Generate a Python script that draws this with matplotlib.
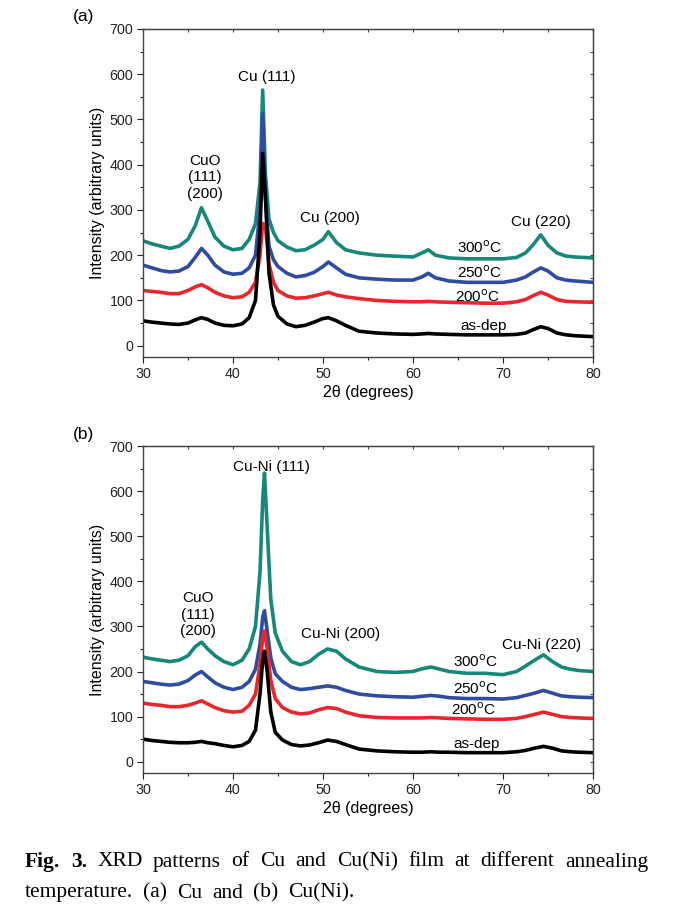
"""XRD patterns of Cu and Cu(Ni) films at different annealing temperatures."""
import matplotlib.pyplot as plt
from matplotlib.ticker import MultipleLocator

plt.rcParams["font.family"] = ["Liberation Sans", "DejaVu Sans"]

# ---- panel (a): Cu ----
two_theta_a = [30, 31, 32, 33, 34, 35, 35.8, 36.5, 37.2, 38, 39, 40, 41, 41.8,
               42.5, 43.0, 43.3, 43.6, 44.0, 44.5, 45, 46, 47, 48, 49, 50, 50.6,
               51.5, 52.5, 54, 56, 58, 60, 61, 61.7, 62.5, 64, 66, 68, 70, 71.5,
               72.5, 73.3, 74.2, 75, 76, 77, 78, 80]
cu_300 = [232, 225, 220, 215, 220, 235, 265, 305, 275, 240, 220, 212, 215, 235,
          270, 360, 565, 380, 280, 250, 232, 218, 210, 212, 222, 235, 252,
          228, 212, 205, 200, 198, 196, 205, 212, 200, 194, 192, 192, 192, 195,
          205, 222, 245, 222, 205, 198, 196, 194]
cu_250 = [178, 172, 166, 163, 165, 175, 195, 215, 200, 178, 163, 158, 160, 172,
          200, 300, 512, 330, 220, 190, 175, 160, 152, 155, 162, 175, 185,
          172, 158, 150, 147, 145, 145, 152, 160, 150, 143, 140, 140, 140, 145,
          152, 162, 172, 165, 150, 145, 143, 140]
cu_200 = [122, 120, 118, 115, 115, 122, 130, 135, 128, 118, 110, 106, 108, 118,
          140, 200, 270, 265, 180, 140, 122, 110, 105, 106, 110, 115, 118,
          112, 108, 104, 100, 98, 97, 97, 98, 97, 96, 95, 94, 94, 97,
          102, 110, 118, 112, 102, 98, 97, 96]
cu_asdep = [55, 52, 50, 48, 47, 50, 57, 62, 58, 50, 45, 44, 48, 62,
            100, 250, 425, 330, 160, 90, 65, 48, 42, 45, 52, 60, 62,
            55, 45, 32, 28, 26, 25, 26, 27, 26, 25, 24, 24, 24, 25,
            28, 35, 42, 38, 28, 24, 22, 20]

# ---- panel (b): Cu(Ni) ----
two_theta_b = [30, 31, 32, 33, 34, 35, 35.8, 36.5, 37.2, 38, 39, 40, 41, 41.8,
               42.5, 43.0, 43.3, 43.5, 43.8, 44.2, 44.7, 45.5, 46.5, 47.5, 48.5,
               49.5, 50.5, 51.5, 52.5, 54, 56, 58, 60, 61, 62, 63, 64, 66, 68, 70,
               71.5, 72.5, 73.5, 74.5, 75.5, 76.5, 77.5, 78.5, 80]
cuni_300 = [232, 228, 225, 222, 225, 235, 255, 265, 250, 235, 222, 215, 225, 250,
            300, 420, 580, 640, 520, 360, 285, 245, 222, 215, 222,
            238, 250, 245, 228, 210, 200, 198, 200, 206, 210, 205, 200, 196, 196, 193,
            200, 212, 225, 237, 222, 210, 205, 202, 200]
cuni_250 = [178, 175, 172, 170, 172, 180, 192, 200, 188, 175, 165, 160, 165, 178,
            205, 260, 320, 335, 290, 230, 195, 178, 165, 160, 162,
            165, 168, 165, 158, 150, 146, 144, 143, 145, 147, 145, 142, 140, 140, 139,
            142, 147, 152, 158, 152, 146, 144, 143, 142]
cuni_200 = [130, 127, 125, 122, 122, 125, 130, 135, 128, 120, 113, 110, 112, 125,
            150, 215, 275, 290, 250, 180, 140, 120, 110, 106, 108,
            115, 120, 118, 110, 102, 98, 97, 97, 97, 98, 97, 96, 95, 94, 94,
            96, 100, 105, 110, 105, 100, 98, 97, 96]
cuni_asdep = [50, 47, 45, 43, 42, 42, 43, 45, 42, 40, 36, 33, 36, 45,
              70, 150, 225, 245, 200, 110, 65, 48, 38, 35, 37,
              42, 48, 45, 38, 28, 24, 22, 21, 21, 22, 21, 21, 20, 20, 20,
              22, 25, 30, 34, 30, 24, 22, 21, 20]

series_colors = ["#17877a", "#2f4c9e", "#e8262b", "#000000"]
temp_labels = ["300$^{\\rm o}$C", "250$^{\\rm o}$C", "200$^{\\rm o}$C", "as-dep"]

caption_line1 = ["Fig.", "3.", "XRD", "patterns", "of", "Cu", "and", "Cu(Ni)", "film",
                 "at", "different", "annealing"]
caption_line2 = ["temperature.", "(a)", "Cu", "and", "(b)", "Cu(Ni)."]


def style_axes(ax):
    ax.set_xlim(30, 80)
    ax.set_ylim(-25, 700)
    ax.xaxis.set_major_locator(MultipleLocator(10))
    ax.xaxis.set_minor_locator(MultipleLocator(5))
    ax.yaxis.set_major_locator(MultipleLocator(100))
    ax.yaxis.set_minor_locator(MultipleLocator(50))
    ax.tick_params(which="both", direction="out", labelsize=10.3, colors="#222222",
                   width=0.8, pad=3)
    ax.tick_params(which="major", length=4)
    ax.tick_params(which="minor", length=2.5)
    for side in ax.spines.values():
        side.set_color("#444444")
        side.set_linewidth(1.0)
    top = ax.secondary_xaxis("top")
    top.xaxis.set_major_locator(MultipleLocator(5))
    top.tick_params(direction="in", length=2.5, labeltop=False, width=0.8, colors="#444444")
    right = ax.secondary_yaxis("right")
    right.yaxis.set_major_locator(MultipleLocator(50))
    right.tick_params(direction="in", length=2.5, labelright=False, width=0.8, colors="#444444")
    ax.set_xlabel("2θ (degrees)", fontsize=11.5, labelpad=3)
    ax.set_ylabel("Intensity (arbitrary units)", fontsize=11.5, labelpad=3)


def plot_panel(ax, x, curves, peak_texts, temp_pos):
    for ys, c in zip(curves, series_colors):
        ax.plot(x, ys, color=c, lw=2.6, solid_joinstyle="round")
    for txt, (tx, ty) in peak_texts:
        ax.text(tx, ty, txt, ha="center", va="center", fontsize=11, linespacing=1.25)
    for lab, (tx, ty) in zip(temp_labels, temp_pos):
        ax.text(tx, ty, lab, ha="center", va="center", fontsize=11)
    style_axes(ax)


def place_words(fig, words, y_px, x0_px, x1_px, bold_count=0):
    # spread words evenly between x0 and x1 (justified caption line)
    serif = ["Liberation Serif", "DejaVu Serif"]
    renderer = fig.canvas.get_renderer()
    texts = []
    for i, w in enumerate(words):
        t = fig.text(0, 1 - y_px / 914, w, fontsize=15.5, family=serif,
                     weight="bold" if i < bold_count else "normal", va="center")
        texts.append(t)
    widths = [t.get_window_extent(renderer).width for t in texts]
    gap = (x1_px - x0_px - sum(widths)) / (len(words) - 1)
    x = x0_px
    for t, w in zip(texts, widths):
        t.set_x(x / 678)
        x += w + gap


fig = plt.figure(figsize=(6.78, 9.14), dpi=100)
ax_a = fig.add_axes([0.2109, 0.6094, 0.6637, 0.3589])
ax_b = fig.add_axes([0.2109, 0.1543, 0.6637, 0.3577])

plot_panel(ax_a, two_theta_a, [cu_300, cu_250, cu_200, cu_asdep],
           [("CuO\n(111)\n(200)", (36.9, 372)), ("Cu (111)", (43.8, 594)),
            ("Cu (200)", (50.8, 283)), ("Cu (220)", (74.2, 274))],
           [(67.4, 216), (67.4, 161), (67.2, 108), (67.8, 44)])
plot_panel(ax_b, two_theta_b, [cuni_300, cuni_250, cuni_200, cuni_asdep],
           [("CuO\n(111)\n(200)", (36.1, 326)), ("Cu-Ni (111)", (44.3, 654)),
            ("Cu-Ni (200)", (51.9, 284)), ("Cu-Ni (220)", (74.3, 259))],
           [(66.9, 221), (66.9, 162), (66.7, 115), (67.1, 40)])

fig.text(84 / 678, 1 - 17 / 914, "(a)", fontsize=12.5, ha="center", va="center")
fig.text(84 / 678, 1 - 435 / 914, "(b)", fontsize=12.5, ha="center", va="center")

place_words(fig, caption_line1, 862, 25, 648, bold_count=2)
place_words(fig, caption_line2, 893, 25, 354)

fig.savefig("out.png", dpi=100)
